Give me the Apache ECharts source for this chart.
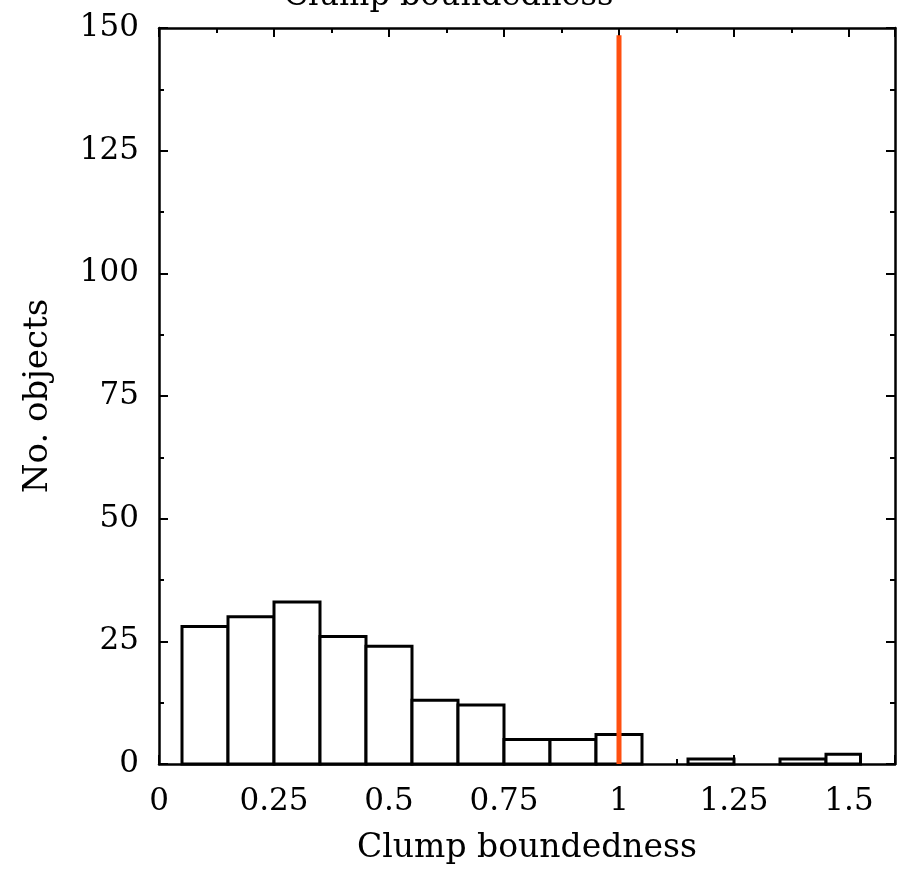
<!DOCTYPE html>
<html>
<head>
<meta charset="utf-8">
<script src="https://cdn.jsdelivr.net/npm/echarts@6/dist/echarts.min.js"></script>
<style>html,body{margin:0;padding:0;background:#fff;overflow:hidden;}#c{width:897px;height:871px;}</style>
</head>
<body>
<div id="c"></div>
<script>
// Histogram bins (left edge, right edge) and counts
const binStart = [0.05, 0.15, 0.25, 0.35, 0.45, 0.55, 0.65, 0.75, 0.85, 0.95, 1.15, 1.35, 1.45];
const binEnd   = [0.15, 0.25, 0.35, 0.45, 0.55, 0.65, 0.75, 0.85, 0.95, 1.05, 1.25, 1.45, 1.525];
const counts   = [28, 30, 33, 26, 24, 13, 12, 5, 5, 6, 1, 1, 2];
// Vertical reference line at boundedness = 1
const refLineX = [1, 1];
const refLineY = [0, 148.5];
const titleText = 'Clump boundedness';
const xName = 'Clump boundedness';
const yName = 'No. objects';

const FONT = 'DejaVu Serif';
const chart = echarts.init(document.getElementById('c'), null, {renderer: 'canvas'});

const barData = binStart.map((s, i) => [s, binEnd[i], counts[i]]);

const axisCommon = {
  axisLine: {show: true, onZero: false, lineStyle: {color: '#000', width: 2.5}},
  axisTick: {show: true, inside: true, length: 9, lineStyle: {color: '#000', width: 2}},
  minorTick: {show: true, splitNumber: 2, length: 5, lineStyle: {color: '#000', width: 2}},
  splitLine: {show: false}
};

chart.setOption({
  animation: false,
  backgroundColor: '#fff',
  title: {
    text: titleText, left: 'center', top: -24,
    textStyle: {fontFamily: FONT, fontSize: 32, fontWeight: 'normal', color: '#000'}
  },
  grid: {left: 159, right: 2, top: 28, bottom: 107, containLabel: false, outerBoundsMode: 'none'},
  xAxis: [
    Object.assign({}, axisCommon, {
      type: 'value', min: 0, max: 1.6, interval: 0.25, position: 'bottom',
      name: xName, nameLocation: 'middle', nameGap: 68,
      nameTextStyle: {fontFamily: FONT, fontSize: 33, color: '#000'},
      axisLabel: {show: true, margin: 22, showMaxLabel: false, fontFamily: FONT, fontSize: 31, color: '#000'}
    }),
    Object.assign({}, axisCommon, {
      type: 'value', min: 0, max: 1.6, interval: 0.25, position: 'top',
      axisLabel: {show: false}
    })
  ],
  yAxis: [
    Object.assign({}, axisCommon, {
      type: 'value', min: 0, max: 150, interval: 25, position: 'left',
      name: yName, nameLocation: 'middle', nameGap: 104, nameRotate: 90,
      nameTextStyle: {fontFamily: FONT, fontSize: 34, color: '#000'},
      axisLabel: {show: true, margin: 20, fontFamily: FONT, fontSize: 31, color: '#000'}
    }),
    Object.assign({}, axisCommon, {
      type: 'value', min: 0, max: 150, interval: 25, position: 'right',
      axisLabel: {show: false}
    })
  ],
  series: [
    {
      type: 'custom',
      xAxisIndex: 0, yAxisIndex: 0,
      data: barData,
      renderItem: function (params, api) {
        const p0 = api.coord([api.value(0), 0]);
        const p1 = api.coord([api.value(1), api.value(2)]);
        return {
          type: 'rect',
          shape: {x: p0[0], y: p1[1], width: p1[0] - p0[0], height: p0[1] - p1[1]},
          style: {fill: '#fff', stroke: '#000', lineWidth: 3}
        };
      },
      z: 2
    },
    {
      type: 'line',
      xAxisIndex: 0, yAxisIndex: 0,
      data: refLineX.map((x, i) => [x, refLineY[i]]),
      symbol: 'none',
      lineStyle: {color: '#ff4f0f', width: 5},
      z: 5
    }
  ]
});
</script>
</body>
</html>
